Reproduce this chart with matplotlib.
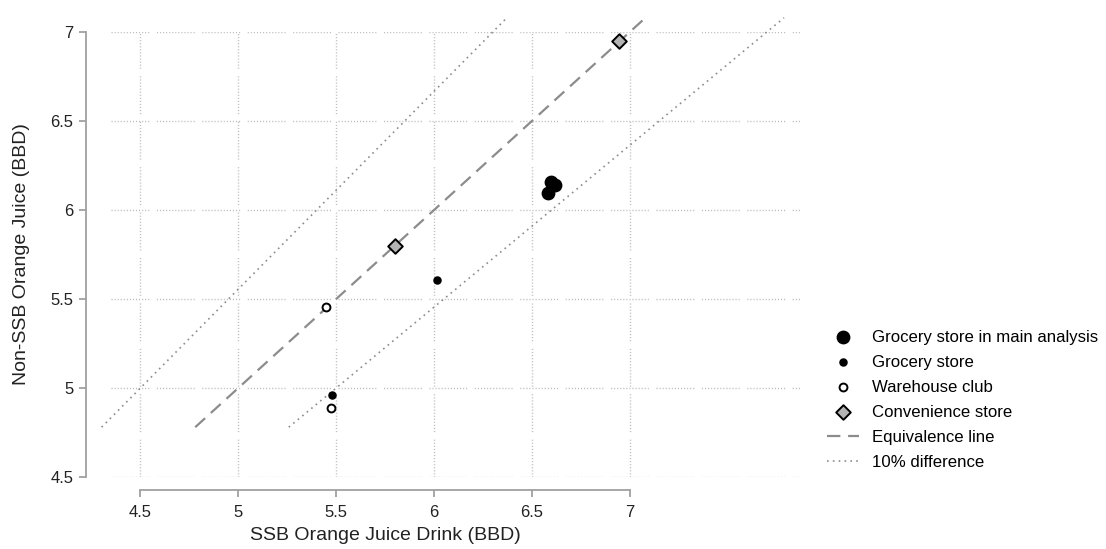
import numpy as np
import matplotlib
matplotlib.use("Agg")
import matplotlib.pyplot as plt

plt.rcParams['font.family'] = ['Liberation Sans', 'DejaVu Sans']

# Data (price in BBD): SSB drink vs non-SSB juice
main_x = [6.58, 6.60, 6.62]
main_y = [6.095, 6.155, 6.14]
grocery_x = [5.48, 6.015]
grocery_y = [4.96, 5.607]
warehouse_x = [5.45, 5.475]
warehouse_y = [5.455, 4.885]
conv_x = [5.80, 6.945]
conv_y = [5.80, 6.95]

ticks = [4.5, 5, 5.5, 6, 6.5, 7]
tick_labels = ['4.5', '5', '5.5', '6', '6.5', '7']

# reference lines span this range of non-SSB price
line_y = np.array([4.78, 7.08])

fig = plt.figure(figsize=(11.06, 5.49), dpi=100)
ax = fig.add_axes([0.1004, 0.1311, 0.623, 0.8106])
ax.set_xlim(4.35, 7.87)
ax.set_ylim(4.5, 7.0)

# Stata-like broken dotted grid
grid_dash = (0, [0.8, 1.4] * 12 + [0.8, 5.5])
for t in ticks:
    ax.plot([4.35, 7.87], [t, t], color='#bdbdbd', lw=1.0, linestyle=grid_dash, zorder=0)
    ax.plot([t, t], [4.5, 7.0], color='#bdbdbd', lw=1.0, linestyle=grid_dash, zorder=0)

ax.scatter(main_x, main_y, s=80, color='black', zorder=4, label='Grocery store in main analysis')
ax.scatter(grocery_x, grocery_y, s=26, color='black', zorder=4, label='Grocery store')
ax.scatter(warehouse_x, warehouse_y, s=32, facecolor='white', edgecolor='black',
           linewidth=1.4, zorder=4, label='Warehouse club')
ax.scatter(conv_x, conv_y, s=55, marker='D', facecolor='#b4b4b4', edgecolor='black',
           linewidth=1.4, zorder=4, label='Convenience store')

ax.plot(line_y, line_y, color='#8c8c8c', lw=1.6, linestyle=(0, (6, 3.5)),
        clip_on=False, zorder=3, label='Equivalence line')
ax.plot(0.9 * line_y, line_y, color='#8c8c8c', lw=1.2, linestyle=(0, (1, 2.5)),
        clip_on=False, zorder=3, label='10% difference')
ax.plot(1.1 * line_y, line_y, color='#8c8c8c', lw=1.2, linestyle=(0, (1, 2.5)),
        clip_on=False, zorder=3)

for side in ['top', 'right']:
    ax.spines[side].set_visible(False)
ax.spines['left'].set_position(('outward', 18))
ax.spines['bottom'].set_position(('outward', 9.4))
ax.spines['left'].set_bounds(4.5, 7)
ax.spines['bottom'].set_bounds(4.5, 7)
for side in ['left', 'bottom']:
    ax.spines[side].set_color('#a0a0a0')
    ax.spines[side].set_linewidth(1.3)

ax.set_xticks(ticks)
ax.set_xticklabels(tick_labels)
ax.set_yticks(ticks)
ax.set_yticklabels(tick_labels)
ax.tick_params(axis='both', length=5, width=1.3, color='#a0a0a0', labelsize=12,
               labelcolor='#222222')
ax.tick_params(axis='x', pad=6)
ax.tick_params(axis='y', pad=4)

ax.set_xlabel('SSB Orange Juice Drink (BBD)', fontsize=14, color='#222222')
ax.set_ylabel('Non-SSB Orange Juice (BBD)', fontsize=14, color='#222222')
# center the x label under the drawn axis line, not the whole plot region
ax.xaxis.set_label_coords(0.398, -0.112)
ax.yaxis.set_label_coords(-0.118, 0.5)

fig.legend(loc='upper left', bbox_to_anchor=(0.742, 0.412), frameon=False,
           fontsize=12.1, handlelength=1.9, handletextpad=0.75, labelspacing=0.6,
           borderaxespad=0)

fig.savefig('out.png', dpi=100)
